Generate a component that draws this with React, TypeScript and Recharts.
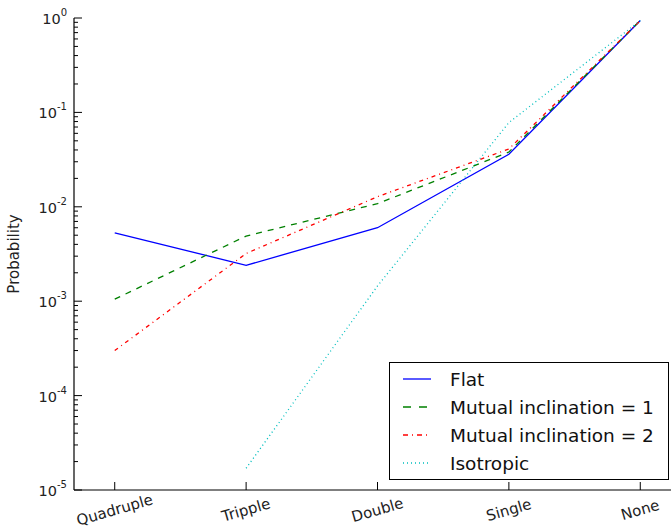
import React from 'react'
import { LineChart, Line, XAxis, YAxis } from 'recharts'

// categories along the x axis
const categories = ['Quadruple', 'Tripple', 'Double', 'Single', 'None']

// probabilities
const flat = [5.3e-3, 2.4e-3, 6.0e-3, 0.036, 0.94]
const mutual1 = [1.05e-3, 4.9e-3, 0.0108, 0.038, 0.94]
const mutual2 = [3.0e-4, 3.2e-3, 0.0128, 0.041, 0.94]
const isotropic = [null, 1.7e-5, 1.45e-3, 0.078, 0.94]

const majorTicks = [1e-5, 1e-4, 1e-3, 1e-2, 1e-1, 1]

const FONT = '"DejaVu Sans", sans-serif'

const chartData = categories.map((name, i) => ({
  x: i,
  name,
  flat: flat[i],
  mutual1: mutual1[i],
  mutual2: mutual2[i],
  isotropic: isotropic[i],
}))

// major + minor ticks for the log axis
const yTicks: number[] = []
for (let e = -5; e <= 0; e++) {
  for (let m = 1; m <= 9; m++) {
    if (e === 0 && m > 1) break
    yTicks.push(Number((m * Math.pow(10, e)).toPrecision(3)))
  }
}

const isMajor = (v: number) => majorTicks.some(t => Math.abs(t - v) / t < 1e-6)

const YTick = (props: any) => {
  const { x, y, payload } = props
  const v = payload.value
  if (!isMajor(v)) {
    return <line x1={x} x2={x + 4} y1={y} y2={y} stroke="#000" strokeWidth={1} />
  }
  const exp = Math.round(Math.log10(v))
  return (
    <g>
      <line x1={x} x2={x + 8} y1={y} y2={y} stroke="#000" strokeWidth={1} />
      <text x={x - 7} y={y + 6} textAnchor="end" fontFamily={FONT} fontSize={14.5} fill="#222">
        10<tspan dy={-8} fontSize={10}>{exp}</tspan>
      </text>
    </g>
  )
}

const XTick = (props: any) => {
  const { x, y, payload } = props
  const label = categories[payload.value]
  return (
    <g>
      <line x1={x} x2={x} y1={y} y2={y - 8} stroke="#000" strokeWidth={1} />
      <text
        x={x}
        y={y + 25}
        textAnchor="middle"
        fontFamily={FONT}
        fontSize={15}
        fill="#222"
        transform={`rotate(-16 ${x} ${y + 20})`}
      >
        {label}
      </text>
    </g>
  )
}

const TopTick = (props: any) => {
  const { x, y } = props
  return <line x1={x} x2={x} y1={y} y2={y + 8} stroke="#000" strokeWidth={1} />
}

const legendItems = [
  { label: 'Flat', color: '#0000ff', dash: undefined },
  { label: 'Mutual inclination = 1', color: '#008000', dash: '8 8' },
  { label: 'Mutual inclination = 2', color: '#ff0000', dash: '5 4 1 4' },
  { label: 'Isotropic', color: '#00bfbf', dash: '1 3' },
]

export default function App() {
  return (
    <div style={{ position: 'absolute', left: 0, top: 0, width: 671, height: 531, overflow: 'hidden', background: '#fff' }}>
      <LineChart width={700} height={531} data={chartData} margin={{ top: 18, right: 19, left: 0, bottom: 0 }}>
        <XAxis
          dataKey="x"
          type="number"
          domain={[-0.31, 4.31]}
          allowDataOverflow
          ticks={[0, 1, 2, 3, 4]}
          interval={0}
          height={41}
          tickSize={0}
          tickMargin={0}
          tickLine={false}
          tick={<XTick />}
          axisLine={{ stroke: '#000', strokeWidth: 1.2 }}
        />
        <XAxis
          xAxisId="top"
          orientation="top"
          dataKey="x"
          type="number"
          domain={[-0.31, 4.31]}
          allowDataOverflow
          ticks={[0, 1, 2, 3, 4]}
          interval={0}
          height={0}
          tickSize={0}
          tickMargin={0}
          tickLine={false}
          tick={<TopTick />}
          axisLine={{ stroke: '#000', strokeWidth: 1.2 }}
        />
        <YAxis
          scale="log"
          domain={[1e-5, 1]}
          allowDataOverflow
          ticks={yTicks}
          interval={0}
          width={74}
          tickSize={0}
          tickMargin={0}
          tickLine={false}
          tick={<YTick />}
          axisLine={{ stroke: '#000', strokeWidth: 1.2 }}
          label={{
            value: 'Probability',
            angle: -90,
            position: 'insideLeft',
            offset: 14,
            style: { fontFamily: FONT, fontSize: 15, fill: '#222', textAnchor: 'middle' },
          }}
        />
        <Line dataKey="flat" stroke="#0000ff" strokeWidth={1.3} dot={false} isAnimationActive={false} />
        <Line dataKey="mutual1" stroke="#008000" strokeWidth={1.3} strokeDasharray="6 6" dot={false} isAnimationActive={false} />
        <Line dataKey="mutual2" stroke="#ff0000" strokeWidth={1.3} strokeDasharray="4 4 1 4" dot={false} isAnimationActive={false} />
        <Line dataKey="isotropic" stroke="#00bfbf" strokeWidth={1.3} strokeDasharray="1 3" dot={false} isAnimationActive={false} />
      </LineChart>
      <div
        style={{
          position: 'absolute',
          left: 389,
          top: 362,
          width: 278,
          height: 116,
          border: '1px solid #000',
          background: '#fff',
          fontFamily: FONT,
          fontSize: 18.5,
          color: '#111',
        }}
      >
        {legendItems.map((item, i) => (
          <div key={item.label} style={{ position: 'absolute', left: 12, top: 5 + i * 28, height: 22, display: 'flex', alignItems: 'center', whiteSpace: 'nowrap' }}>
            <svg width={30} height={10} style={{ marginRight: 18 }}>
              <line x1={1} x2={29} y1={5} y2={5} stroke={item.color} strokeWidth={1.3} strokeDasharray={item.dash} />
            </svg>
            <span>{item.label}</span>
          </div>
        ))}
      </div>
    </div>
  )
}
